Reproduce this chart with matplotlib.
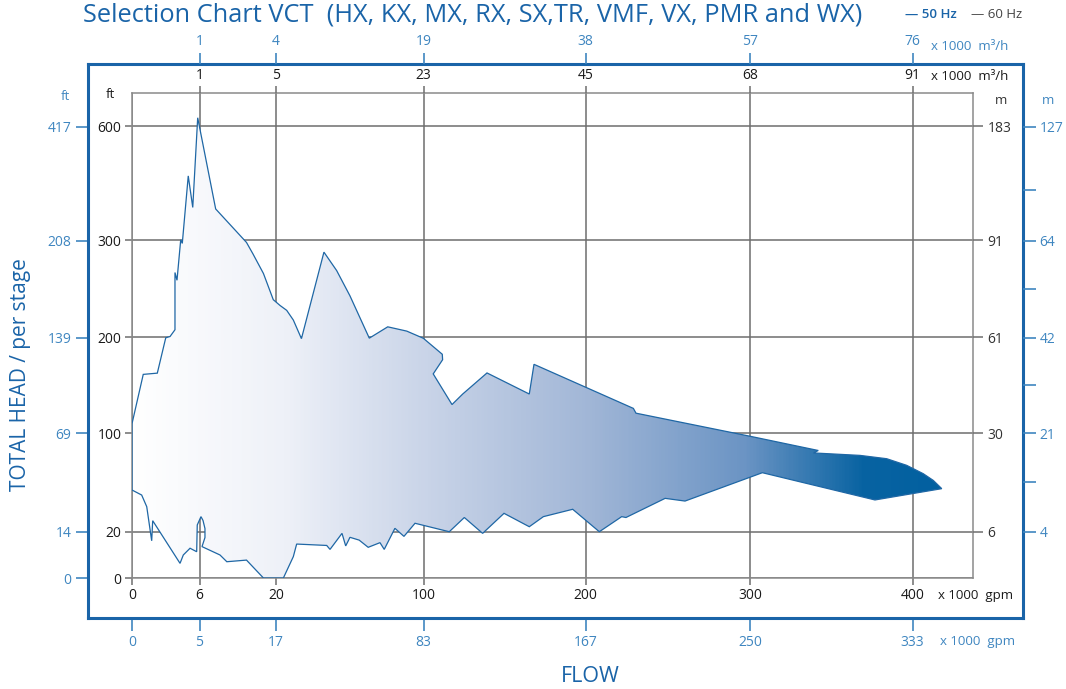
import numpy as np
import matplotlib.pyplot as plt
from matplotlib.colors import LinearSegmentedColormap
from matplotlib.patches import Polygon

plt.rcParams['font.family'] = ['Open Sans', 'DejaVu Sans']

W, H = 1066, 689

# grid values: flow in x1000 gpm (60 Hz), head in ft (60 Hz)
flow_ticks = [0, 6, 20, 100, 200, 300, 400]
head_ticks = [0, 20, 100, 200, 300, 600]

# the chart grid is stretched: pixel offset of each grid value from the origin
flow_grid_px = [0, 67.5, 144, 291.5, 453.5, 618, 780.5]
head_grid_px = [0, 46.5, 144.7, 240.5, 337.5, 451.5]

# other unit labels
gpm_50 = ['0', '5', '17', '83', '167', '250', '333']
m3h_60 = ['1', '5', '23', '45', '68', '91']
m3h_50 = ['1', '4', '19', '38', '57', '76']
ft_50 = ['0', '14', '69', '139', '208', '417']
m_60 = ['6', '30', '61', '91', '183']
m_50 = ['4', '21', '42', '64', '127']
m_50_minor = [60, 150, 250, 433]

# selection envelope, upper edge (left -> right)
upper_flow = [0, 0, 1.0, 2.25, 3.0, 3.38, 3.82, 3.82, 4.0, 4.33, 4.47, 5.0, 5.4, 5.84,
              8.96, 14.6, 15.8, 17.7, 19.5, 22.2, 25.8, 29.4, 33.8, 46.0, 52.9, 60.1,
              70.6, 80.6, 90.9, 99.9, 111.6, 111.8, 106.0, 117.6, 124.2, 139.2, 165.3,
              168.2, 229.1, 230.7, 300, 342.0, 339.0, 367.7, 384.1, 396.4, 406.6, 412.8, 418.0]
upper_head = [53.8, 110, 161.5, 162.8, 199.7, 201, 208, 267, 259, 302, 297, 470, 387, 623,
              383, 298, 286, 266, 239, 233, 228, 218, 198.8, 288, 269, 243,
              199.3, 211, 206.6, 199.2, 182.5, 176.8, 162, 130, 141, 163, 141,
              172, 126, 121, 97.6, 86, 84, 82, 79.3, 73.9, 67.1, 61.6, 54.9]

# selection envelope, lower edge (right -> left)
lower_flow = [376.9, 307.6, 260.5, 248.4, 224.6, 222.0, 208.4, 192.1, 174.0, 165.3, 149.7,
              136.5, 125.2, 115.9, 95.4, 89.4, 84.5, 78.7, 76.4, 70.0, 65.1, 60.1, 59.2,
              57.8, 55.8, 49.3, 47.5, 31.2, 29.4, 24.0, 17.7, 14.6, 11.0, 9.75, 6.46,
              7.0, 7.0, 6.64, 6.27, 5.80, 5.75, 5.16, 4.56, 4.27, 1.84, 1.75, 1.31, 0.86]
lower_head = [45.7, 67.9, 44.8, 47.0, 31.4, 32.1, 19.9, 38.1, 32.1, 23.9, 34.8,
              19.2, 31.4, 19.9, 26.7, 17.9, 22.6, 12.3, 15.2, 13.2, 16.3, 17.5, 16.0,
              13.8, 19.2, 12.3, 14.0, 14.6, 9.2, 0, 0, 7.7, 7.0, 9.9, 13.5,
              17.4, 22.4, 29.0, 32.1, 25.3, 11.3, 12.8, 9.9, 6.3, 28.8, 16.0, 40.2, 49.7]

BLUE = '#1a64a8'
LBLUE = '#3f86c0'
GRID = '#6e6e6e'


def make_scale(vals, px):
    v = np.asarray(vals, float)
    p = np.asarray(px, float)
    s0 = (p[1] - p[0]) / (v[1] - v[0])
    s1 = (p[-1] - p[-2]) / (v[-1] - v[-2])
    v = np.r_[v[0] - 1e4, v, v[-1] + 1e4]
    p = np.r_[p[0] - 1e4 * s0, p, p[-1] + 1e4 * s1]
    return (lambda x: np.interp(x, v, p)), (lambda y: np.interp(y, p, v))


fx, ix = make_scale(flow_ticks, flow_grid_px)
fy, iy = make_scale(head_ticks, head_grid_px)

# origin of the inner grid in figure pixels
X0, Y0 = 132, 578


def setup(a, left, top, right, bottom):
    a.set_xscale('function', functions=(fx, ix))
    a.set_yscale('function', functions=(fy, iy))
    a.set_xlim(ix(left - X0), ix(right - X0))
    a.set_ylim(iy(Y0 - bottom), iy(Y0 - top))


def rect(left, top, right, bottom):
    return [left / W, (H - bottom) / H, (right - left) / W, (bottom - top) / H]


fig = plt.figure(figsize=(W / 100, H / 100), dpi=100)

# ---- outer (50 Hz) frame ----
ob = (88, 64, 1023, 618)
ox = fig.add_axes(rect(*ob))
setup(ox, *ob)
ox.set_facecolor('none')
for s in ox.spines.values():
    s.set_color(BLUE)
    s.set_linewidth(2.2)
ox.set_xticks(flow_ticks)
ox.set_xticklabels(gpm_50)
ox.set_yticks(head_ticks)
ox.set_yticklabels(ft_50)
ox.tick_params(direction='out', length=9, width=1.2, color=LBLUE, labelcolor=LBLUE,
               labelsize=10, pad=3)
ox.xaxis.set_minor_locator(plt.NullLocator())
ox.yaxis.set_minor_locator(plt.NullLocator())

ox2 = fig.add_axes(rect(*ob))
setup(ox2, *ob)
ox2.set_facecolor('none')
for s in ox2.spines.values():
    s.set_visible(False)
ox2.xaxis.tick_top()
ox2.yaxis.tick_right()
ox2.set_xticks(flow_ticks[1:])
ox2.set_xticklabels(m3h_50)
ox2.set_yticks(head_ticks[1:])
ox2.set_yticklabels(m_50)
ox2.set_yticks(m_50_minor, minor=True)
ox2.xaxis.set_minor_locator(plt.NullLocator())
ox2.tick_params(which='both', direction='out', length=8, width=1.2, color=LBLUE,
                labelcolor=LBLUE, labelsize=10, pad=3)
ox2.tick_params(axis='y', which='both', length=9.5, pad=2.5)

# ---- inner (60 Hz) grid ----
ib = (132, 93, 973, 578)
ax = fig.add_axes(rect(*ib))
cmap = LinearSegmentedColormap.from_list(
    'env', [(0, '#ffffff'), (0.18, '#eef1f8'), (0.35, '#c9d4e8'), (0.54, '#a2b7d7'),
            (0.73, '#6b94c4'), (0.87, '#0863a2'), (1, '#005f9f')])
grad = np.linspace(0, 1, 600).reshape(1, -1)
im = ax.imshow(grad, cmap=cmap, extent=(0, 1, 0, 1), transform=ax.transAxes,
               aspect='auto', interpolation='bilinear', zorder=2)
env = np.column_stack([upper_flow + lower_flow, upper_head + lower_head])
poly = Polygon(env, closed=True, facecolor='none', edgecolor='#1f67a5', lw=0.9, zorder=3)
ax.add_patch(poly)
im.set_clip_path(poly)
setup(ax, *ib)
ax.set_xticks(flow_ticks)
ax.set_xticklabels([str(v) for v in flow_ticks])
ax.set_yticks(head_ticks)
ax.set_yticklabels([str(v) for v in head_ticks])
ax.xaxis.set_minor_locator(plt.NullLocator())
ax.yaxis.set_minor_locator(plt.NullLocator())
ax.grid(True, color=GRID, lw=1.1, zorder=1)
ax.set_axisbelow(True)
for s in ax.spines.values():
    s.set_color('#8a8a8a')
    s.set_linewidth(1.1)
ax.tick_params(direction='out', length=5, width=1.1, color=GRID, labelcolor='#1a1a1a',
               labelsize=10, pad=2.5)

ax2 = fig.add_axes(rect(*ib))
setup(ax2, *ib)
ax2.set_facecolor('none')
for s in ax2.spines.values():
    s.set_visible(False)
ax2.xaxis.tick_top()
ax2.yaxis.tick_right()
ax2.set_xticks(flow_ticks[1:])
ax2.set_xticklabels(m3h_60)
ax2.set_yticks(head_ticks[1:])
ax2.set_yticklabels(m_60)
ax2.xaxis.set_minor_locator(plt.NullLocator())
ax2.yaxis.set_minor_locator(plt.NullLocator())
ax2.tick_params(direction='out', length=5, width=1.1, color=GRID, labelcolor='#1a1a1a',
                labelsize=10, pad=2)
ax2.tick_params(axis='y', length=7.5, labelcolor='#333333', pad=3)


# ---- unit texts ----
def ftext(x, y, s, **kw):
    fig.text(x / W, 1 - y / H, s, **kw)


ftext(110, 95, 'ft', ha='center', va='center', fontsize=9.5, color='#1a1a1a')
ftext(65, 96, 'ft', ha='center', va='center', fontsize=9.5, color=LBLUE)
ftext(1001, 100, 'm', ha='center', va='center', fontsize=9.5, color='#333333')
ftext(1048, 100, 'm', ha='center', va='center', fontsize=9.5, color=LBLUE)
ftext(931, 77, 'x 1000  m³/h', ha='left', va='center', fontsize=9.5, color='#1a1a1a')
ftext(931, 46, 'x 1000  m³/h', ha='left', va='center', fontsize=9.5, color=LBLUE)
ftext(938, 596, 'x 1000  gpm', ha='left', va='center', fontsize=9.5, color='#1a1a1a')
ftext(940, 642, 'x 1000  gpm', ha='left', va='center', fontsize=9.5, color=LBLUE)

ftext(590, 676, 'FLOW', ha='center', va='center', fontsize=15.5, color=BLUE)
ftext(21, 375, 'TOTAL HEAD / per stage', ha='center', va='center', rotation=90,
      fontsize=15, color=BLUE)
ftext(83, 21, 'Selection Chart VCT  (HX, KX, MX, RX, SX,TR, VMF, VX, PMR and WX)',
      ha='left', va='baseline', fontsize=18.3, color=BLUE)
ftext(905, 15, '— 50 Hz', ha='left', va='center', fontsize=9.5, color=BLUE,
      fontweight='semibold')
ftext(971, 15, '— 60 Hz', ha='left', va='center', fontsize=9.5, color='#444444')

fig.savefig('out.png', dpi=100)
